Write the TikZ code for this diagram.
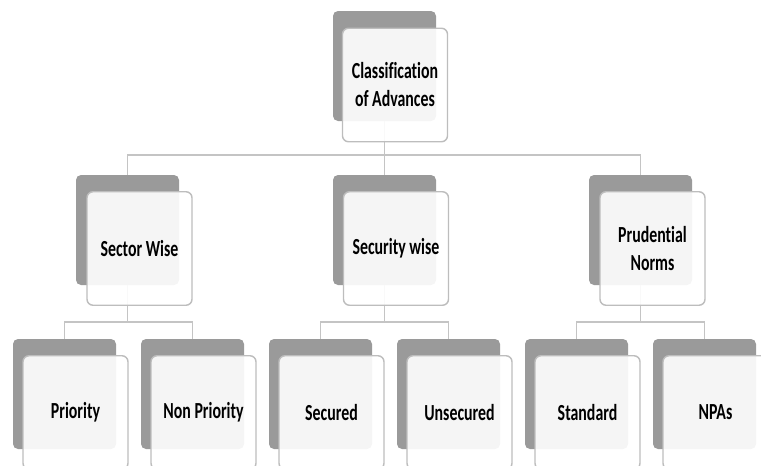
\documentclass[tikz,border=0pt]{standalone}
\usepackage{fontspec}
\newfontfamily\boxfont{Carlito}[FakeStretch=0.69,Ligatures={NoCommon,NoContextual}]
\definecolor{shade}{HTML}{9A9A9A}
\definecolor{rim}{HTML}{BDBDBD}
\definecolor{wire}{HTML}{C4C4C4}
\begin{document}
\begin{tikzpicture}[x=1pt,y=-1pt,
  backbox/.style={draw=none,fill=shade,rounded corners=5pt,
    minimum width=103pt,minimum height=110pt,inner sep=0pt},
  frontbox/.style={draw=rim,line width=1.4pt,fill=white,fill opacity=0.9,
    text opacity=1,rounded corners=6pt,minimum width=105pt,minimum height=113.5pt,
    inner sep=0pt,align=center,font=\boxfont\bfseries\fontsize{23}{28}\selectfont},
  conn/.style={draw=wire,line width=1.4pt}]
\useasboundingbox (0,0) rectangle (761,466);
\clip (0,0) rectangle (761,466);

% levels of the connector bars
\coordinate (bar1) at (0,155);
\coordinate (bar2) at (0,322);

% shadow boxes (back layer)
\node[backbox] (rootB) at (384.5,66) {};
\node[backbox] (sectB) at (127.5,230) {};
\node[backbox] (secuB) at (384.5,230) {};
\node[backbox] (prudB) at (640.5,230) {};
\node[backbox] (prioB) at (64.5,394) {};
\node[backbox] (nonpB) at (192.5,394) {};
\node[backbox] (secdB) at (320.5,394) {};
\node[backbox] (unsdB) at (448.5,394) {};
\node[backbox] (stdB) at (576.5,394) {};
\node[backbox] (npaB) at (704.5,394) {};

% elbow connectors between the shadow boxes
\foreach \c in {sectB,secuB,prudB}
  \draw[conn] (rootB.south) -- (rootB.south |- bar1) -| (\c.north);
\foreach \p/\c in {sectB/prioB,sectB/nonpB,secuB/secdB,secuB/unsdB,prudB/stdB,prudB/npaB}
  \draw[conn] (\p.south) -- (\p.south |- bar2) -| (\c.north);

% front boxes with labels
\node[frontbox] (root) at (395,85) {Classification\\of Advances};
\node[frontbox] (sect) at (139.5,248.5) {Sector Wise};
\node[frontbox] (secu) at (396,248.5) {Security wise};
\node[frontbox] (prud) at (652.5,248.5) {Prudential\\Norms};
\node[frontbox] (prio) at (75.5,412.5) {Priority};
\node[frontbox] (nonp) at (203.5,412.5) {Non Priority};
\node[frontbox] (secd) at (331.5,412.5) {Secured};
\node[frontbox] (unsd) at (459.5,412.5) {Unsecured};
\node[frontbox] (std) at (587.5,412.5) {Standard};
\node[frontbox] (npa) at (715.5,412.5) {NPAs};
\end{tikzpicture}
\end{document}
